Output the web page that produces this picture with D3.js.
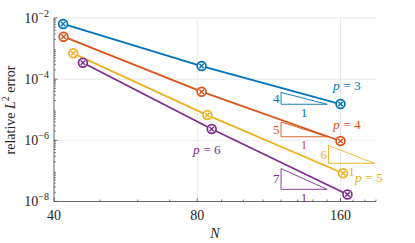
<!DOCTYPE html>
<html>
<head>
<meta charset="utf-8">
<script src="https://cdn.jsdelivr.net/npm/d3@7"></script>
<style>
  html, body { margin: 0; padding: 0; background: #fff; }
  svg { display: block; }
  text { font-family: 'Liberation Serif', 'Times New Roman', 'DejaVu Serif', serif; }
</style>
</head>
<body>
<svg id="chart" width="415" height="243"></svg>
<script>
// ---- data ----
const degrees = [3, 4, 5, 6];
const colors = ["#0072BD", "#D95319", "#EDB120", "#7E2F8E"];
const nP3 = [41.8, 81.7, 160];
const eP3 = [6.4e-3, 2.69e-4, 1.54e-5];
const nP4 = [41.9, 81.7, 160];
const eP4 = [2.45e-3, 3.89e-5, 9.5e-7];
const nP5 = [43.9, 84, 162];
const eP5 = [7.0e-4, 6.7e-6, 8.4e-8];
const nP6 = [46, 85.8, 165.5];
const eP6 = [3.45e-4, 2.34e-6, 1.7e-8];
// slope triangles: bottom-left corner (N, err), slope, width factor
const triN = [120, 120, 151, 120];
const triE = [1.51e-5, 1.31e-6, 1.77e-7, 2.5e-8];
const triSlope = [4, 5, 6, 7];
const triFactor = 1.25;
const xTicks = [40, 80, 160];
const yTicks = [1e-2, 1e-4, 1e-6, 1e-8];
const yTickExp = ["-2", "-4", "-6", "-8"];
const xDomain = [40, 190];
const yDomain = [1e-8, 1e-2];

const seriesN = [nP3, nP4, nP5, nP6];
const seriesE = [eP3, eP4, eP5, eP6];

// ---- layout ----
const FONT = "'Liberation Serif', 'Times New Roman', 'DejaVu Serif', serif";
const svg = d3.select("#chart").attr("font-family", FONT);
const L = 54, R = 376, T = 18, B = 201.5;
const x = d3.scaleLog().domain(xDomain).range([L, R]);
const y = d3.scaleLog().domain(yDomain).range([B, T]);
const axisCol = "#404040";
const gridCol = "#e3e3e3";

// grid
const g = svg.append("g");
xTicks.slice(1).forEach(t => {
  g.append("line").attr("x1", x(t)).attr("x2", x(t)).attr("y1", T).attr("y2", B)
    .attr("stroke", gridCol).attr("stroke-width", 0.8);
});
yTicks.slice(0, 3).forEach(t => {
  g.append("line").attr("x1", L).attr("x2", R).attr("y1", y(t)).attr("y2", y(t))
    .attr("stroke", gridCol).attr("stroke-width", 0.8);
});

// axes lines
svg.append("line").attr("x1", L).attr("x2", R).attr("y1", B).attr("y2", B)
  .attr("stroke", axisCol).attr("stroke-width", 0.8);
svg.append("line").attr("x1", L).attr("x2", L).attr("y1", T).attr("y2", B)
  .attr("stroke", axisCol).attr("stroke-width", 0.8);

// x ticks (major + minor, inward)
const xMinor = [];
for (let v = 50; v <= 190; v += 10) if (v !== 80 && v !== 160) xMinor.push(v);
xMinor.forEach(t => svg.append("line").attr("x1", x(t)).attr("x2", x(t))
  .attr("y1", B).attr("y2", B - 2).attr("stroke", axisCol).attr("stroke-width", 0.7));
xTicks.forEach(t => svg.append("line").attr("x1", x(t)).attr("x2", x(t))
  .attr("y1", B).attr("y2", B - 3.5).attr("stroke", axisCol).attr("stroke-width", 0.7));
// y ticks
for (let e = -8; e < -2; e++) {
  for (let m = 2; m <= 9; m++) {
    const v = m * Math.pow(10, e);
    svg.append("line").attr("x1", L).attr("x2", L + 2).attr("y1", y(v)).attr("y2", y(v))
      .attr("stroke", axisCol).attr("stroke-width", 0.6);
  }
}
yTicks.forEach(t => svg.append("line").attr("x1", L).attr("x2", L + 3.5)
  .attr("y1", y(t)).attr("y2", y(t)).attr("stroke", axisCol).attr("stroke-width", 0.7));

// tick labels
const txtCol = "#262626";
xTicks.forEach(t => svg.append("text").attr("x", x(t)).attr("y", 220)
  .attr("text-anchor", "middle").attr("font-size", 14).attr("fill", txtCol).text(t));
yTicks.forEach((t, i) => {
  const tx = svg.append("text").attr("x", 49).attr("y", y(t) + 4.8)
    .attr("text-anchor", "end").attr("font-size", 14).attr("fill", txtCol);
  tx.append("tspan").text("10");
  tx.append("tspan").attr("dy", -6).attr("font-size", 10).text("\u2212" + yTickExp[i].slice(1));
});

// axis titles
svg.append("text").attr("x", 215).attr("y", 238).attr("text-anchor", "middle")
  .attr("font-size", 14).attr("font-style", "italic").attr("fill", txtCol).text("N");
const yl = svg.append("text").attr("transform", "translate(14.5,110) rotate(-90)")
  .attr("text-anchor", "middle").attr("font-size", 14).attr("fill", txtCol);
yl.append("tspan").text("relative ");
yl.append("tspan").attr("font-style", "italic").text("L");
yl.append("tspan").attr("dy", -5.5).attr("font-size", 10).text("2");
yl.append("tspan").attr("dy", 5.5).text(" error");

// series lines & markers
const line = d3.line().x(d => x(d[0])).y(d => y(d[1]));
seriesN.forEach((ns, i) => {
  const pts = ns.map((n, j) => [n, seriesE[i][j]]);
  svg.append("path").attr("d", line(pts)).attr("fill", "none")
    .attr("stroke", colors[i]).attr("stroke-width", 1.8);
  pts.forEach(p => {
    const cx = x(p[0]), cy = y(p[1]);
    svg.append("circle").attr("cx", cx).attr("cy", cy).attr("r", 4.4)
      .attr("fill", "#fff").attr("stroke", colors[i]).attr("stroke-width", 1.7);
    const a = 2.3;
    svg.append("path")
      .attr("d", `M${cx - a},${cy - a}L${cx + a},${cy + a}M${cx - a},${cy + a}L${cx + a},${cy - a}`)
      .attr("stroke", colors[i]).attr("stroke-width", 1.4);
  });
});

// slope triangles
triN.forEach((n0, i) => {
  const n1 = n0 * triFactor;
  const e0 = triE[i];
  const e1 = e0 * Math.pow(triFactor, triSlope[i]);
  const x0 = x(n0), x1 = x(n1), y0 = y(e0), y1 = y(e1);
  svg.append("path").attr("d", `M${x0},${y1}L${x0},${y0}L${x1},${y0}Z`)
    .attr("fill", "none").attr("stroke", colors[i]).attr("stroke-width", 0.9);
  svg.append("text").attr("x", x0 - 1.5).attr("y", (y0 + y1) / 2 + 4.5)
    .attr("text-anchor", "end").attr("font-size", 13).attr("fill", colors[i]).text(triSlope[i]);
  svg.append("text").attr("x", (x0 + x1) / 2).attr("y", y0 + 12.5)
    .attr("text-anchor", "middle").attr("font-size", 13).attr("fill", colors[i]).text("1");
});

// p labels
const pLabelX = [333, 333, 355, 193];
const pLabelY = [90, 129, 181.5, 154];
degrees.forEach((p, i) => {
  const t = svg.append("text").attr("x", pLabelX[i]).attr("y", pLabelY[i])
    .attr("font-size", 13.5).attr("fill", colors[i]);
  t.append("tspan").attr("font-style", "italic").text("p");
  t.append("tspan").text(" = " + p);
});
</script>
</body>
</html>
